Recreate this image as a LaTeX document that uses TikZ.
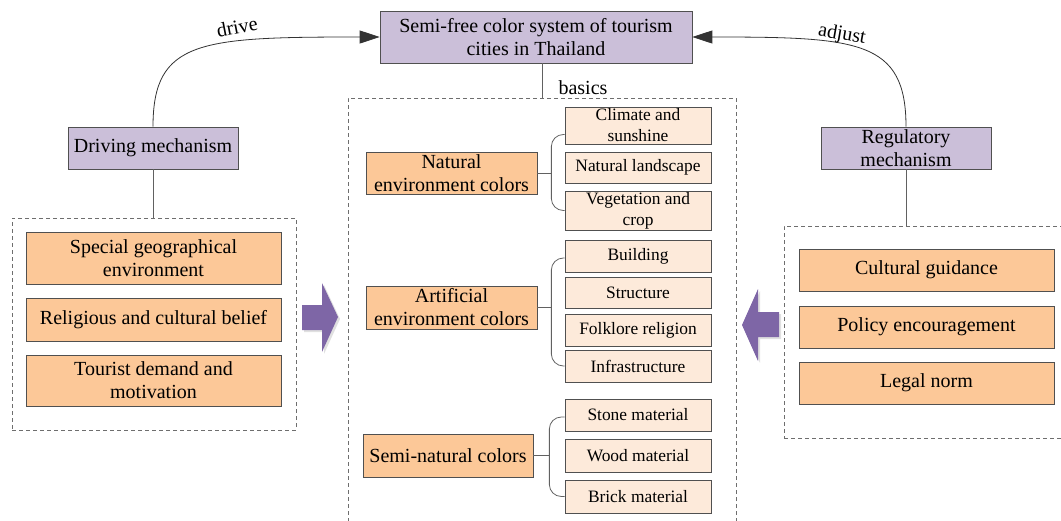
\documentclass[tikz,border=0pt]{standalone}
\usepackage{fontspec}
\setmainfont{Liberation Serif}
\usetikzlibrary{arrows.meta,calc}
\definecolor{lav}{RGB}{203,191,217}
\definecolor{org}{RGB}{252,200,152}
\definecolor{peach}{RGB}{253,234,218}
\definecolor{bord}{RGB}{80,80,80}
\definecolor{dashc}{RGB}{110,110,110}
\definecolor{arrp}{RGB}{126,102,166}
\tikzset{
  pbox/.style={draw=bord,line width=0.7pt,fill=lav,rectangle,inner sep=0pt,align=center,font=\fontsize{20}{23}\selectfont},
  obox/.style={draw=bord,line width=0.7pt,fill=org,rectangle,inner sep=0pt,align=center,font=\fontsize{20}{23}\selectfont},
  sbox/.style={draw=bord,line width=0.7pt,fill=peach,rectangle,inner sep=0pt,align=center,font=\fontsize{17.4}{21}\selectfont,minimum width=146pt},
  grp/.style={draw=dashc,line width=0.8pt,dash pattern=on 4pt off 3pt,rectangle,inner sep=0pt},
  conn/.style={draw=bord!90,line width=0.8pt},
  brk/.style={draw=bord!90,line width=0.8pt,rounded corners=12pt},
  lbl/.style={font=\fontsize{20}{23}\selectfont,inner sep=0pt},
  curv/.style={draw=black!80,line width=0.8pt,-{Triangle[length=20pt,width=13pt]}},
  barrow/.style={fill=arrp,draw=none},
  bshadow/.style={fill=black!12,draw=none}
}
\begin{document}
\begin{tikzpicture}[x=1pt,y=-1pt]
\useasboundingbox (0,0) rectangle (1061,520);
% groups
\node[grp,minimum width=284pt,minimum height=212pt] (lgrp) at (154,324) {};
\node[grp,minimum width=388pt,minimum height=442pt] (cgrp) at (542,319) {};
\node[grp,minimum width=286pt,minimum height=212pt] (rgrp) at (927,332) {};
% title and mechanisms
\node[pbox,minimum width=312pt,minimum height=52pt] (title) at (536,37) {Semi-free color system of tourism\\cities in Thailand};
\node[pbox,minimum width=170pt,minimum height=42pt] (drv) at (153,148) {Driving mechanism};
\node[pbox,minimum width=170pt,minimum height=42pt] (reg) at (906,148) {Regulatory\\mechanism};
% left items
\node[obox,minimum width=255pt,minimum height=52pt] (l1) at (153.5,258) {Special geographical\\environment};
\node[obox,minimum width=255pt,minimum height=43pt] (l2) at (153.5,319.5) {Religious and cultural belief};
\node[obox,minimum width=255pt,minimum height=51pt] (l3) at (153.5,380.5) {Tourist demand and\\motivation};
% right items
\node[obox,minimum width=255pt,minimum height=42pt] (r1) at (926.5,270) {Cultural guidance};
\node[obox,minimum width=255pt,minimum height=42pt] (r2) at (926.5,327) {Policy encouragement};
\node[obox,minimum width=255pt,minimum height=42pt] (r3) at (926.5,383) {Legal norm};
% center categories
\node[obox,minimum width=171pt,minimum height=42pt] (nat) at (451.5,173) {Natural\\environment colors};
\node[obox,minimum width=171pt,minimum height=43pt] (art) at (451.5,307.5) {Artificial\\environment colors};
\node[obox,minimum width=170pt,minimum height=43pt] (semi) at (448,455.5) {Semi-natural colors};
% sub items
\node[sbox,minimum height=37pt] (clim) at (638,125.5) {Climate and\\sunshine};
\node[sbox,minimum height=31pt] (land) at (638,167.5) {Natural landscape};
\node[sbox,minimum height=39pt] (veg) at (638,210.5) {Vegetation and\\crop};
\node[sbox,minimum height=32pt] (bld) at (638,256) {Building};
\node[sbox,minimum height=31pt] (str) at (638,292.5) {Structure};
\node[sbox,minimum height=32pt] (folk) at (638,330) {Folklore religion};
\node[sbox,minimum height=32pt] (infra) at (638,366) {Infrastructure};
\node[sbox,minimum height=32pt] (stone) at (638,415) {Stone material};
\node[sbox,minimum height=33pt] (wood) at (638,455.5) {Wood material};
\node[sbox,minimum height=33pt] (brick) at (638,496.5) {Brick material};
% brackets
\draw[conn] (nat.east) -- ++(14,0) coordinate (nb);
\draw[brk] ([yshift=-9pt]clim.west) -| (nb) |- (veg.west);
\draw[conn] (art.east) -- ++(14,0) coordinate (ab);
\draw[brk] ([yshift=-2pt]bld.west) -| (ab) |- (infra.west);
\draw[conn] (semi.east) -- ++(16,0) coordinate (sb);
\draw[brk] ([yshift=-2pt]stone.west) -| (sb) |- (brick.west);
% connectors
\draw[conn] (drv.south) -- (drv |- lgrp.north);
\draw[conn] (reg.south) -- (reg |- rgrp.north);
\draw[conn] (cgrp.north |- title.south) -- (cgrp.north);
\node[lbl] (basics) at (583,88) {basics};
\coordinate (tl) at (title.west);
\coordinate (tr) at (title.east);
\draw[curv] (drv.north) .. controls (153,40) and (200,37) .. (tl);
\draw[curv] (reg.north) .. controls (906,40) and (858,37) .. (tr);
\node[lbl,rotate=11] (drivel) at (237,27) {drive};
\node[lbl,rotate=-10] (adjl) at (842,35) {adjust};
% block arrows
\fill[bshadow] (304,307) -- (324,307) -- (324,285) -- (340,319) -- (324,354) -- (324,332) -- (304,332) -- cycle;
\fill[barrow] (302,305) -- (322,305) -- (322,283) -- (338,317) -- (322,352) -- (322,330) -- (302,330) -- cycle;
\fill[bshadow] (781,314) -- (760,314) -- (760,291) -- (744,327) -- (760,363) -- (760,339) -- (781,339) -- cycle;
\fill[barrow] (779,312) -- (758,312) -- (758,289) -- (742,325) -- (758,361) -- (758,337) -- (779,337) -- cycle;
\end{tikzpicture}
\end{document}
